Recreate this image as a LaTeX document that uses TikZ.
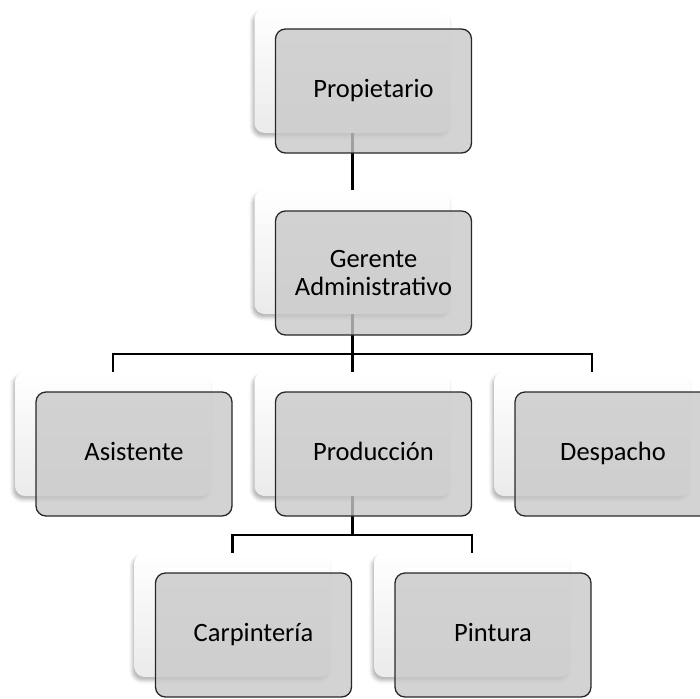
\documentclass[tikz,border=0pt]{standalone}
\usepackage{fontspec}
\setmainfont{Carlito}
\usetikzlibrary{shadows.blur}

\definecolor{boxgray}{RGB}{200,200,200}
\definecolor{boxedge}{RGB}{40,40,40}

\tikzset{
  backbox/.style={
    rectangle, rounded corners=10pt,
    minimum width=196pt, minimum height=124pt, inner sep=0pt,
    top color=white, middle color=white, bottom color=black!8,
    blur shadow={shadow xshift=-2pt, shadow yshift=-3.5pt,
                 shadow blur radius=3.5pt, shadow opacity=30}
  },
  frontbox/.style={
    rectangle, rounded corners=10pt,
    minimum width=196pt, minimum height=124pt, inner sep=0pt,
    draw=boxedge, line width=1.3pt,
    fill=boxgray, fill opacity=0.8, text opacity=1,
    font=\fontsize{26.5}{28}\selectfont, align=center
  },
  oneline/.style={text height=16pt, text depth=3pt},
  link/.style={draw=black, line width=2.8pt, line join=miter}
}

\begin{document}
\begin{tikzpicture}[x=1pt, y=-1pt]
  \useasboundingbox (0,0) rectangle (700,698);
  \clip (0,0) rectangle (700,698);

  % back panels
  \node[backbox] (prop-b) at (352.5,71)  {};
  \node[backbox] (ger-b)  at (352.5,252) {};
  \node[backbox] (asi-b)  at (113,434)   {};
  \node[backbox] (pro-b)  at (352.5,434) {};
  \node[backbox] (des-b)  at (592,434)   {};
  \node[backbox] (car-b)  at (232.5,615) {};
  \node[backbox] (pin-b)  at (472,615)   {};

  % junctions of the bus lines
  \coordinate (bus1) at (352.5,354);
  \coordinate (bus2) at (352.5,535);

  % connectors
  \draw[link] (prop-b.south) -- (ger-b.north);
  \draw[link] (ger-b.south) -- (bus1);
  \draw[link] (asi-b.north) |- (bus1) -| (des-b.north);
  \draw[link] (bus1) -- (pro-b.north);
  \draw[link] (pro-b.south) -- (bus2);
  \draw[link] (car-b.north) |- (bus2) -| (pin-b.north);

  % front panels with the labels
  \node[frontbox, oneline] (prop) at (373.5,91)  {Propietario};
  \node[frontbox]          (ger)  at (373.5,273) {Gerente\\Administrativo};
  \node[frontbox, oneline] (asi)  at (134,454)   {Asistente};
  \node[frontbox, oneline] (pro)  at (373.5,454) {Producción};
  \node[frontbox, oneline] (des)  at (613,454)   {Despacho};
  \node[frontbox, oneline] (car)  at (253.5,635) {Carpintería};
  \node[frontbox, oneline] (pin)  at (493,635)   {Pintura};
\end{tikzpicture}
\end{document}
